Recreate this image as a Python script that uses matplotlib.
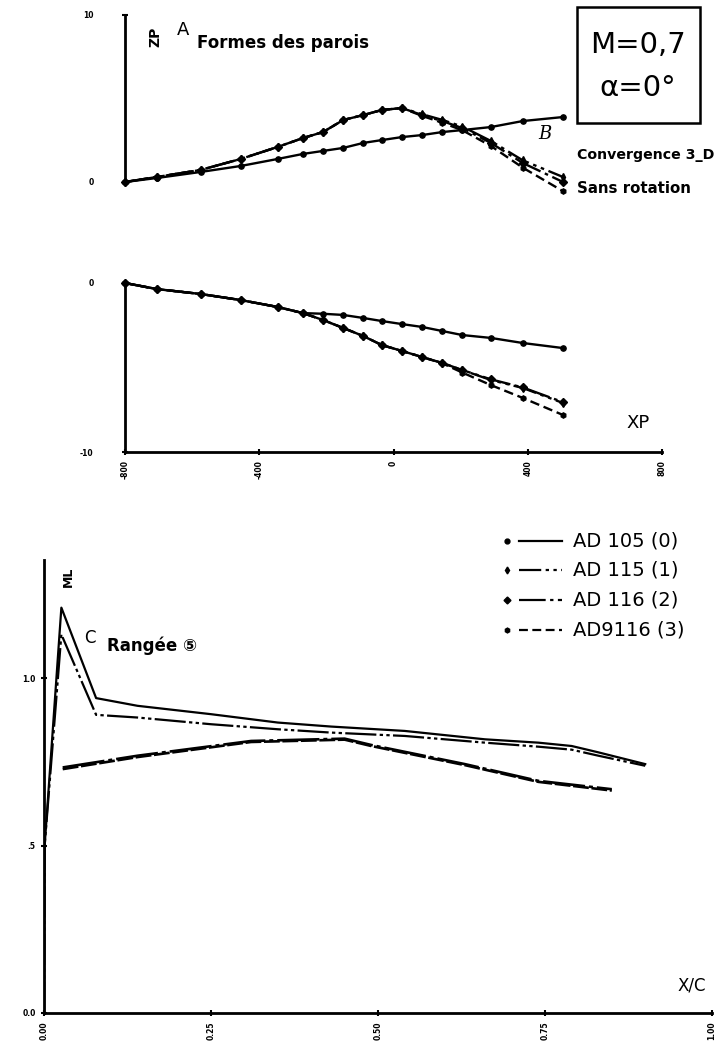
import matplotlib
matplotlib.use("Agg")
import matplotlib.pyplot as plt
from matplotlib.patches import Rectangle

plt.rcParams['font.family'] = ['DejaVu Sans', 'Noto Sans CJK SC']

W, H = 728, 1054

# XP stations shared by the two wall-shape plots
xp = [-800, -705, -575, -455, -345, -270, -210, -150, -90, -35, 25, 85, 145, 205, 290, 385, 505]

# ZP : wall shapes (top plot)
zp_105 = [0.0, 0.24, 0.60, 0.96, 1.38, 1.68, 1.86, 2.04, 2.34, 2.51, 2.69, 2.81, 2.99, 3.11, 3.29, 3.65, 3.89]
zp_115 = [0.0, 0.30, 0.72, 1.38, 2.10, 2.63, 2.99, 3.71, 4.01, 4.31, 4.43, 4.06, 3.72, 3.32, 2.46, 1.30, 0.30]
zp_116 = [0.0, 0.30, 0.72, 1.38, 2.10, 2.63, 2.99, 3.71, 4.01, 4.31, 4.43, 4.01, 3.65, 3.23, 2.34, 1.14, 0.00]
zp_9116 = [0.0, 0.30, 0.72, 1.38, 2.10, 2.63, 2.99, 3.71, 4.01, 4.31, 4.43, 3.96, 3.55, 3.10, 2.16, 0.86, -0.55]

# second wall (middle plot)
yp_105 = [0.0, -0.36, -0.65, -1.01, -1.42, -1.78, -1.82, -1.89, -2.07, -2.25, -2.43, -2.60, -2.84, -3.08, -3.25, -3.55, -3.85]
yp_115 = [0.0, -0.36, -0.65, -1.01, -1.42, -1.78, -2.19, -2.66, -3.14, -3.67, -4.02, -4.38, -4.73, -5.15, -5.74, -6.21, -7.10]
yp_116 = [0.0, -0.36, -0.65, -1.01, -1.42, -1.78, -2.19, -2.66, -3.14, -3.67, -4.02, -4.38, -4.73, -5.15, -5.70, -6.18, -7.05]
yp_9116 = [0.0, -0.36, -0.65, -1.01, -1.42, -1.78, -2.19, -2.66, -3.14, -3.67, -4.02, -4.38, -4.75, -5.30, -6.04, -6.80, -7.81]

# ML along the chord, row 5
xc_up = [0.0, 0.001, 0.026, 0.078, 0.14, 0.25, 0.35, 0.43, 0.54, 0.66, 0.74, 0.79, 0.83, 0.90]
ml_105 = [0.0, 0.50, 1.21, 0.94, 0.917, 0.892, 0.867, 0.855, 0.842, 0.817, 0.807, 0.797, 0.778, 0.743]
ml_115 = [0.0, 0.50, 1.13, 0.89, 0.882, 0.862, 0.847, 0.837, 0.827, 0.807, 0.795, 0.786, 0.768, 0.738]
xc_lo = [0.028, 0.14, 0.31, 0.45, 0.49, 0.63, 0.74, 0.85]
ml_116 = [0.733, 0.768, 0.812, 0.819, 0.800, 0.743, 0.693, 0.668]
ml_9116 = [0.728, 0.764, 0.809, 0.816, 0.797, 0.740, 0.690, 0.664]

labels = ['AD 105 (0)', 'AD 115 (1)', 'AD 116 (2)', 'AD9116 (3)']
markers = ['o', 'd', 'D', 'h']
styles = ['-', (0, (10, 2, 1.5, 2, 1.5, 2)), (0, (12, 2, 1.5, 2)), (0, (4, 2))]


def px_axes(fig, x0, y0, x1, y1):
    return fig.add_axes([x0 / W, 1 - y1 / H, (x1 - x0) / W, (y1 - y0) / H])


def bare(ax):
    for s in ('top', 'right'):
        ax.spines[s].set_visible(False)
    for s in ('left', 'bottom'):
        ax.spines[s].set_linewidth(2.0)
    ax.tick_params(direction='inout', length=5, width=1.5, labelsize=5.5)


fig = plt.figure(figsize=(W / 100, H / 100), dpi=100)

# ---- top : Formes des parois ----
ax1 = px_axes(fig, 125, 15, 662, 182)
ax1.set_xlim(-800, 800)
ax1.set_ylim(0, 10)
for yv, st, mk in zip([zp_105, zp_115, zp_116, zp_9116], styles, markers):
    ax1.plot(xp, yv, color='black', lw=1.7, ls=st, marker=mk, ms=3.8, clip_on=False)
bare(ax1)
ax1.spines['bottom'].set_visible(False)
ax1.set_xticks([])
ax1.set_yticks([0, 10])
ax1.set_yticklabels(['0', '10'], fontweight='bold')
ax1.tick_params(axis='y', pad=20)
ax1.text(0.043, 0.93, 'ZP', transform=ax1.transAxes, rotation=90, fontsize=10,
         fontweight='bold', ha='left', va='top')
ax1.text(0.097, 0.965, 'A', transform=ax1.transAxes, fontsize=13, ha='left', va='top')
ax1.text(0.134, 0.83, 'Formes des parois', transform=ax1.transAxes, fontsize=12,
         fontweight='bold', ha='left', va='center')
ax1.text(450, 2.6, 'B', fontsize=13, family='DejaVu Serif', style='italic', ha='center')
ax1.text(548, 1.6, 'Convergence 3_D', fontsize=10.2, fontweight='bold', ha='left',
         va='center', clip_on=False)
ax1.text(548, -0.4, 'Sans rotation', fontsize=10.8, fontweight='bold', ha='left',
         va='center', clip_on=False)

# M / alpha box
fig.patches.append(Rectangle((577 / W, 1 - 123 / H), 123 / W, 116 / H, transform=fig.transFigure,
                             fill=False, ec='black', lw=1.8))
fig.text(638 / W, 1 - 45 / H, 'M=0,7', fontsize=21, ha='center', va='center')
fig.text(638 / W, 1 - 88 / H, 'α=0°', fontsize=21, ha='center', va='center')

# ---- middle : second wall ----
ax2 = px_axes(fig, 125, 283, 662, 452)
ax2.set_xlim(-800, 800)
ax2.set_ylim(-10, 0)
for yv, st, mk in zip([yp_105, yp_115, yp_116, yp_9116], styles, markers):
    ax2.plot(xp, yv, color='black', lw=1.7, ls=st, marker=mk, ms=3.8, clip_on=False)
bare(ax2)
ax2.set_xticks([-800, -400, 0, 400, 800])
ax2.set_xticklabels(['-800', '-400', '0', '400', '800'], rotation=90, fontweight='bold')
ax2.set_yticks([-10, 0])
ax2.set_yticklabels(['-10', '0'], fontweight='bold')
ax2.tick_params(axis='y', pad=20)
ax2.text(0.955, 0.17, 'XP', transform=ax2.transAxes, fontsize=13, ha='center', va='center')

# ---- bottom : ML, Rangée 5 ----
ax3 = px_axes(fig, 44, 560, 712, 1013)
ax3.set_xlim(0, 1)
ax3.set_ylim(0, 453 / 335.0)
ax3.plot(xc_up, ml_105, color='black', lw=1.6, ls='-')
ax3.plot(xc_up, ml_115, color='black', lw=1.6, ls=(0, (14, 1.5, 1.5, 1.5, 1.5, 1.5)))
ax3.plot(xc_lo, ml_116, color='black', lw=1.9, ls=(0, (16, 1.5, 1.5, 1.5)))
ax3.plot(xc_lo, ml_9116, color='black', lw=1.9, ls=(0, (6, 1)))
bare(ax3)
ax3.set_xticks([0, 0.25, 0.5, 0.75, 1.0])
ax3.set_xticklabels(['0.00', '0.25', '0.50', '0.75', '1.00'], rotation=90, fontweight='bold')
ax3.set_yticks([0, 0.5, 1.0])
ax3.set_yticklabels(['0.0', '.5', '1.0'], fontweight='bold')
ax3.text(0.027, 0.985, 'ML', transform=ax3.transAxes, rotation=90, fontsize=9,
         fontweight='bold', ha='left', va='top')
ax3.text(0.97, 0.06, 'X/C', transform=ax3.transAxes, fontsize=12, ha='center', va='center')
ax3.text(0.069, 1.12, 'C', fontsize=12, ha='center', va='center', color='black')
ax3.text(0.095, 1.095, 'Rangée ⑤', fontsize=12, fontweight='bold', ha='left', va='center')

# legend drawn by hand
leg_y = [541, 570, 600, 630]
for i, (lab, st, mk) in enumerate(zip(labels, styles, markers)):
    yy = 1 - leg_y[i] / H
    fig.lines.append(plt.Line2D([507 / W], [yy], transform=fig.transFigure, marker=mk,
                                ms=3.5, color='black', ls='none'))
    fig.lines.append(plt.Line2D([519 / W, 562 / W], [yy, yy], transform=fig.transFigure,
                                color='black', lw=1.6, ls=st))
    fig.text(573 / W, yy, lab, fontsize=14, ha='left', va='center')

fig.savefig('out.png', dpi=100)
